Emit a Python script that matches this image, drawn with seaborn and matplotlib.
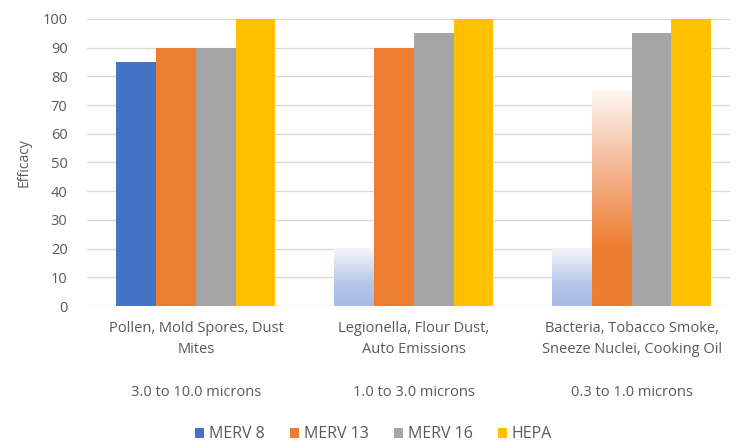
import numpy as np
import pandas as pd
import matplotlib
matplotlib.use("Agg")
import matplotlib.pyplot as plt
import seaborn as sns
from matplotlib.colors import to_rgba

categories = ["Pollen, Mold Spores, Dust\nMites",
              "Legionella, Flour Dust,\nAuto Emissions",
              "Bacteria, Tobacco Smoke,\nSneeze Nuclei, Cooking Oil"]
sizes = ["3.0 to 10.0 microns", "1.0 to 3.0 microns", "0.3 to 1.0 microns"]
filters = ["MERV 8", "MERV 13", "MERV 16", "HEPA"]
merv8 = [85, 20, 20]
merv13 = [90, 90, 75]
merv16 = [90, 95, 95]
hepa = [100, 100, 100]

# bars drawn as faded gradients in the original: (filter, category index)
faded = [("MERV 8", 1), ("MERV 8", 2), ("MERV 13", 2)]

colors = ["#4472C4", "#ED7D31", "#A5A5A5", "#FFC000"]
grad_stops = {
    "MERV 8": [(0.0, "#A9BCE5"), (0.35, "#B3C4E8"), (1.0, "#F4F6FC")],
    "MERV 13": [(0.0, "#ED7D31"), (0.27, "#ED7D31"), (0.6, "#F3B089"), (1.0, "#FEF7F3")],
}

df = pd.DataFrame({
    "category": categories * 4,
    "filter": np.repeat(filters, 3),
    "value": merv8 + merv13 + merv16 + hepa,
})

sns.set_style("white")
plt.rcParams["font.family"] = ["Open Sans", "DejaVu Sans"]
grey = "#595959"
fs = 10.5

fig = plt.figure(figsize=(7.37, 4.47), dpi=100)
ax = fig.add_axes([0.118, 0.315, 0.872, 0.643])

sns.barplot(data=df, x="category", y="value", hue="filter", hue_order=filters,
            palette=colors, width=0.73, gap=0, saturation=1, ax=ax,
            legend=True, zorder=2, linewidth=0, edgecolor="none")

for name, ci in faded:
    patch = ax.containers[filters.index(name)][ci]
    x0, y0 = patch.get_x(), patch.get_y()
    w, h = patch.get_width(), patch.get_height()
    stops = grad_stops[name]
    t = np.linspace(0, 1, 200)
    rgba = np.array([to_rgba(c) for _, c in stops])
    pos = [p for p, _ in stops]
    img = np.stack([np.interp(t, pos, rgba[:, k]) for k in range(4)], axis=1)
    img = img[:, None, :]
    patch.set_facecolor("none")
    ax.imshow(img, extent=[x0, x0 + w, y0, y0 + h], origin="lower",
              aspect="auto", zorder=2, interpolation="bilinear")

ax.set_xlim(-0.5, 2.45)
ax.set_ylim(0, 100)
ax.set_yticks(range(0, 101, 10))
ax.yaxis.grid(True, color="#D9D9D9", linewidth=1)
ax.set_axisbelow(True)
for s in ax.spines.values():
    s.set_visible(False)

ax.set_xlabel("")
ax.set_ylabel("Efficacy", fontsize=10, color=grey, labelpad=8)
ax.tick_params(axis="y", length=0, labelsize=fs, labelcolor=grey, pad=14)
ax.tick_params(axis="x", length=0, labelsize=fs, labelcolor=grey, pad=11)
for lab in ax.get_xticklabels():
    lab.set_linespacing(1.5)

for xpos, txt in zip(ax.get_xticks(), sizes):
    ax.annotate(txt, xy=(xpos, 0), xycoords=("data", "axes fraction"),
                xytext=(0, -62), textcoords="offset points", ha="center",
                va="center", fontsize=fs, color=grey)

handles, labels = ax.get_legend_handles_labels()
ax.legend_.remove()
fig.legend(handles, labels, loc="lower center", bbox_to_anchor=(0.507, -0.022),
           ncol=4, frameon=False, fontsize=11.5, labelcolor=grey,
           handlelength=0.55, handleheight=0.55, handletextpad=0.3,
           columnspacing=1.6)

fig.savefig("out.png", dpi=100)
